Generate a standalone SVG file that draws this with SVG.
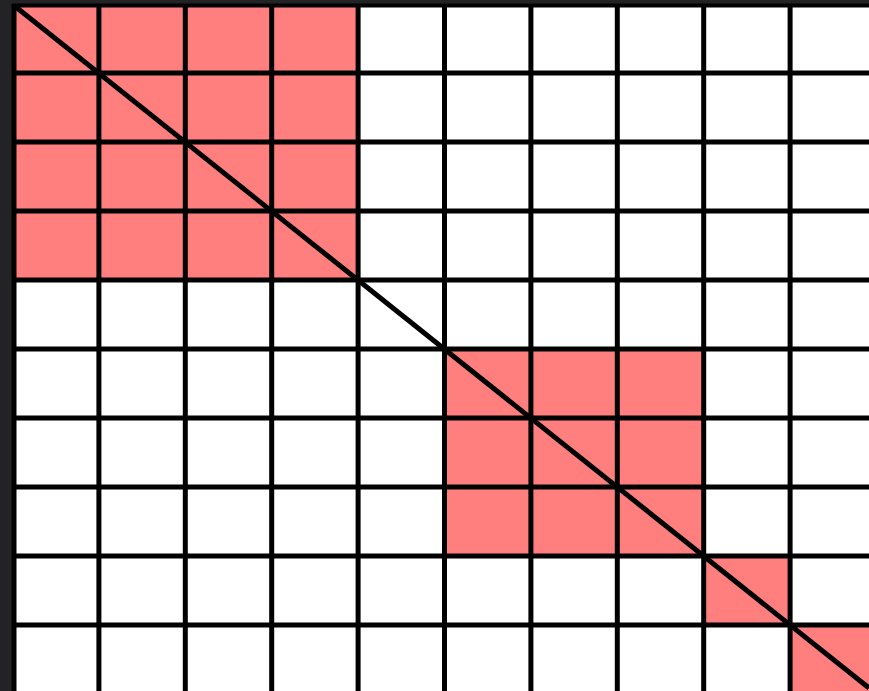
<svg xmlns="http://www.w3.org/2000/svg" width="869" height="691" viewBox="0 0 869 691">
<style>
.cell{fill:#ff7f7f}
.g{stroke:#000;stroke-width:5;fill:none}
</style>
<rect x="0" y="0" width="869" height="691" fill="#232325"/>
<rect x="12" y="4" width="857" height="687" fill="#ffffff"/>
<g id="blocks">
<rect class="cell" x="14" y="5.5" width="344.1" height="274.5"/>
<rect class="cell" x="444.5" y="349" width="259.2" height="207"/>
<rect class="cell" x="703.7" y="556" width="86.4" height="69"/>
<rect class="cell" x="790.1" y="625" width="78.9" height="66"/>
</g>
<g id="grid" class="g">
<path d="M14,4V691M98.9,4V691M185.3,4V691M271.7,4V691M358.1,4V691M444.5,4V691M530.9,4V691M617.3,4V691M703.7,4V691M790.1,4V691"/>
<path stroke-width="4" d="M12,5.5H869"/>
<path d="M12,73H869M12,142H869M12,211H869M12,280H869M12,349H869M12,418H869M12,487H869M12,556H869M12,625H869"/>
</g>
<g id="diagonal">
<path class="g" d="M14,5.5L869,688"/>
</g>
</svg>
